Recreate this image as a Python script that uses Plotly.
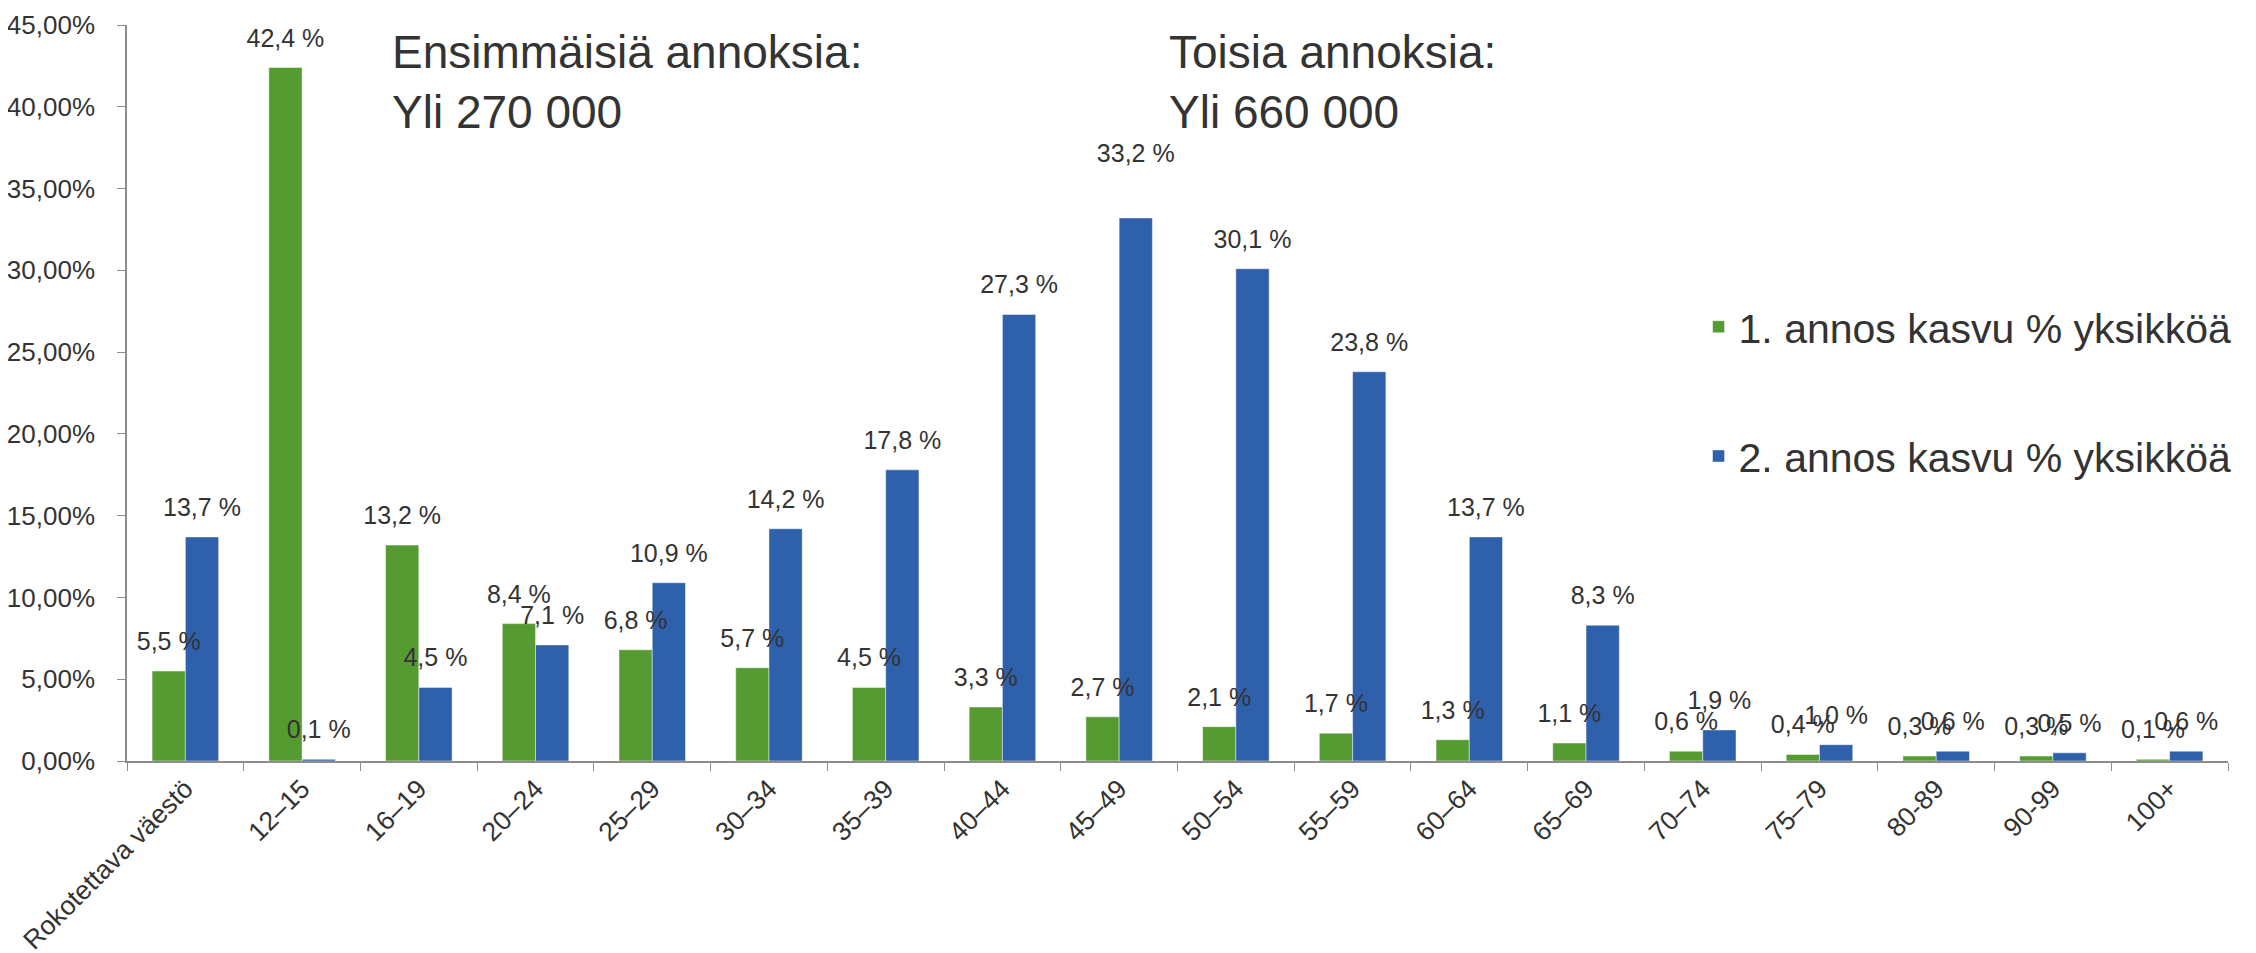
"""
Rokotusten kasvu ikaryhmittain: 1. ja 2. annos, prosenttiyksikkoa.
"""
import plotly.graph_objects as go

categories = ["Rokotettava väestö", "12–15", "16–19", "20–24", "25–29", "30–34",
              "35–39", "40–44", "45–49", "50–54", "55–59", "60–64", "65–69",
              "70–74", "75–79", "80-89", "90-99", "100+"]
dose1 = [5.5, 42.4, 13.2, 8.4, 6.8, 5.7, 4.5, 3.3, 2.7, 2.1, 1.7, 1.3, 1.1,
         0.6, 0.4, 0.3, 0.3, 0.1]
dose2 = [13.7, 0.1, 4.5, 7.1, 10.9, 14.2, 17.8, 27.3, 33.2, 30.1, 23.8, 13.7,
         8.3, 1.9, 1.0, 0.6, 0.5, 0.6]
y_ticks = [0, 5, 10, 15, 20, 25, 30, 35, 40, 45]

FONT = "Arial, Liberation Sans, sans-serif"
TEXT = "#333333"
GREEN = "#559B31"
BLUE = "#2F60AC"
AXIS = "#8C8C8C"


def pct_text(values):
    return [f"{v:.1f} %".replace(".", ",") for v in values]


series = [("1. annos kasvu % yksikköä", dose1, GREEN),
          ("2. annos kasvu % yksikköä", dose2, BLUE)]

fig = go.Figure()
for name, vals, color in series:
    fig.add_trace(go.Bar(
        x=categories, y=[v / 100 for v in vals], name=name,
        legendgroup=name,
        marker=dict(color=color, line=dict(color="rgba(255,255,255,0.45)", width=1)),
    ))
# value labels: grouped text points so they sit a bit above the bars like the original
for i, (name, vals, color) in enumerate(series):
    sizes = [22] * len(vals)
    if i == 1:
        sizes[categories.index("45–49")] = 78  # this label was lifted higher in the original
    fig.add_trace(go.Scatter(
        x=categories, y=[v / 100 for v in vals], mode="markers+text",
        text=pct_text(vals), textposition="top center", cliponaxis=False,
        marker=dict(size=sizes, opacity=0), showlegend=False, hoverinfo="skip",
        textfont=dict(size=25, color=TEXT, family=FONT),
    ))

fig.add_annotation(text="Ensimmäisiä annoksia:<br>Yli 270 000", xref="paper", yref="paper",
                   x=0.125, y=1.001, xanchor="left", yanchor="top", align="left",
                   showarrow=False, font=dict(size=46, color=TEXT, family=FONT))
fig.add_annotation(text="Toisia annoksia:<br>Yli 660 000", xref="paper", yref="paper",
                   x=0.495, y=1.001, xanchor="left", yanchor="top", align="left",
                   showarrow=False, font=dict(size=46, color=TEXT, family=FONT))

# page body has an 8px default margin, so margins are offset by that
fig.update_layout(
    width=2256, height=953,
    margin=dict(l=119, r=36, t=17, b=200),
    plot_bgcolor="white", paper_bgcolor="white",
    separators=", ",
    barmode="group", bargap=0.43, bargroupgap=0,
    scattermode="group", scattergap=0.43,
    font=dict(family=FONT, color=TEXT, size=25),
    legend=dict(x=0.748, y=0.502, xanchor="left", yanchor="middle",
                font=dict(size=41, color=TEXT, family=FONT),
                tracegroupgap=73, bgcolor="rgba(0,0,0,0)"),
)
fig.update_yaxes(range=[0, 0.45], tickvals=[t / 100 for t in y_ticks], tickformat=".2%",
                 showgrid=False, zeroline=False, showline=True, linecolor=AXIS,
                 linewidth=1.5, ticks="outside", ticklen=8, tickcolor=AXIS,
                 tickfont=dict(size=26, color=TEXT), ticklabelstandoff=17,
                 automargin=False)
fig.update_xaxes(tickangle=-45, showgrid=False, showline=True, linecolor=AXIS,
                 linewidth=1.5, ticks="outside", ticklen=8, tickcolor=AXIS,
                 tickson="boundaries", tickfont=dict(size=26.5, color=TEXT),
                 automargin=False)

fig.write_html("out.html")
